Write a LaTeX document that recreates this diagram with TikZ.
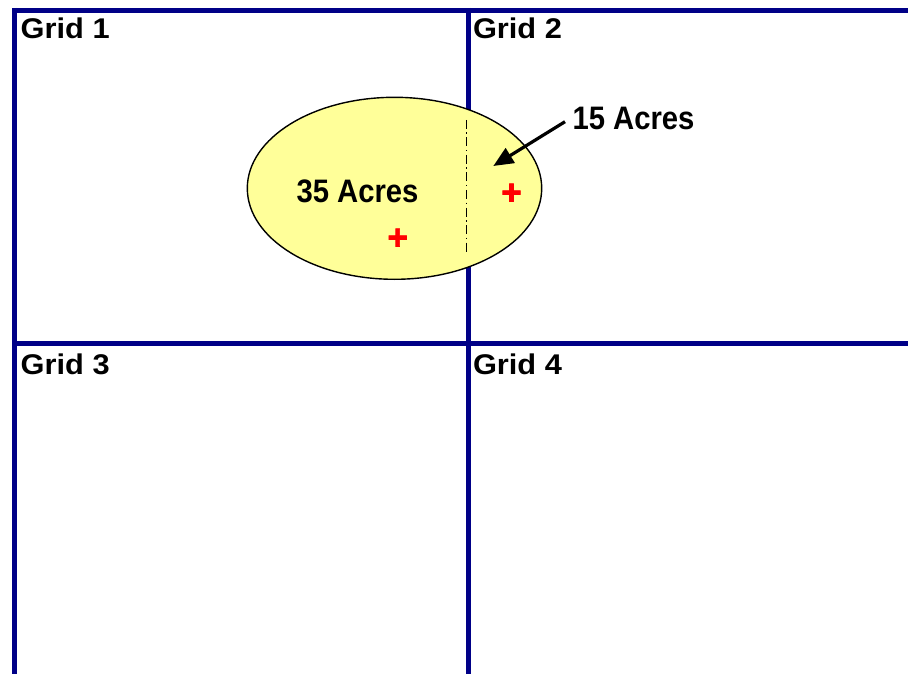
\documentclass[tikz,border=0pt]{standalone}
\usepackage{fontspec}
\setmainfont{Liberation Sans}
\newfontfamily\gridfont{Liberation Sans}[FakeStretch=1.08]
\newfontfamily\acrefont{Liberation Sans}[FakeStretch=0.9]
\newfontfamily\crossfont{Liberation Sans}[FakeBold=2]
\usetikzlibrary{arrows.meta}
\definecolor{gridblue}{RGB}{0,0,135}
\definecolor{paleyellow}{RGB}{255,255,153}
\begin{document}
\begin{tikzpicture}[x=1pt,y=-1pt,
  gridline/.style={draw=gridblue,line width=5pt},
  gridlabel/.style={anchor=base west,inner sep=0pt,font=\gridfont\bfseries\fontsize{28.5}{32}\selectfont},
  acrelabel/.style={anchor=base,inner sep=0pt,font=\acrefont\bfseries\fontsize{32.5}{36}\selectfont},
  redcross/.style={inner sep=0pt,text=red,font=\crossfont\bfseries\fontsize{35}{38}\selectfont}]
\useasboundingbox (0,0) rectangle (908,674);
\fill[white] (0,0) rectangle (908,674);
% grid lines
\coordinate (tl) at (12,10.5);
\coordinate (tr) at (908,10.5);
\coordinate (ml) at (12,343.5);
\coordinate (mr) at (908,343.5);
\coordinate (lt) at (14.5,8);
\coordinate (lb) at (14.5,674);
\coordinate (ct) at (468,8);
\coordinate (cb) at (468,674);
\draw[gridline] (tl) -- (tr);
\draw[gridline] (ml) -- (mr);
\draw[gridline] (lt) -- (lb);
\draw[gridline] (ct) -- (cb);
% labels
\node[gridlabel] (g1) at (20.5,38.6) {Grid 1};
\node[gridlabel] (g2) at (472.8,38.6) {Grid 2};
\node[gridlabel] (g3) at (20.5,374.6) {Grid 3};
\node[gridlabel] (g4) at (472.8,374.6) {Grid 4};
% field ellipse
\fill[paleyellow,draw=black,line width=1.4pt] (394.5,188.3) ellipse [x radius=147.2, y radius=91];
\coordinate (dtop) at (466.7,120);
\coordinate (dbot) at (466.7,252);
\draw[black,line width=1.4pt,dash pattern=on 9pt off 3.5pt on 1.5pt off 3.5pt] (dtop) -- (dbot);
\node[acrelabel] (a35) at (357.5,202) {35 Acres};
\node[acrelabel] (a15) at (633.5,130) {15 Acres};
\coordinate (astart) at (565,121.7);
\coordinate (atip) at (493.3,166);
\draw[black,line width=3.2pt,-{Triangle[length=20pt,width=17pt]}] (astart) -- (atip);
\node[redcross] (c1) at (511.5,194) {+};
\node[redcross] (c2) at (397.7,239) {+};
\end{tikzpicture}
\end{document}
